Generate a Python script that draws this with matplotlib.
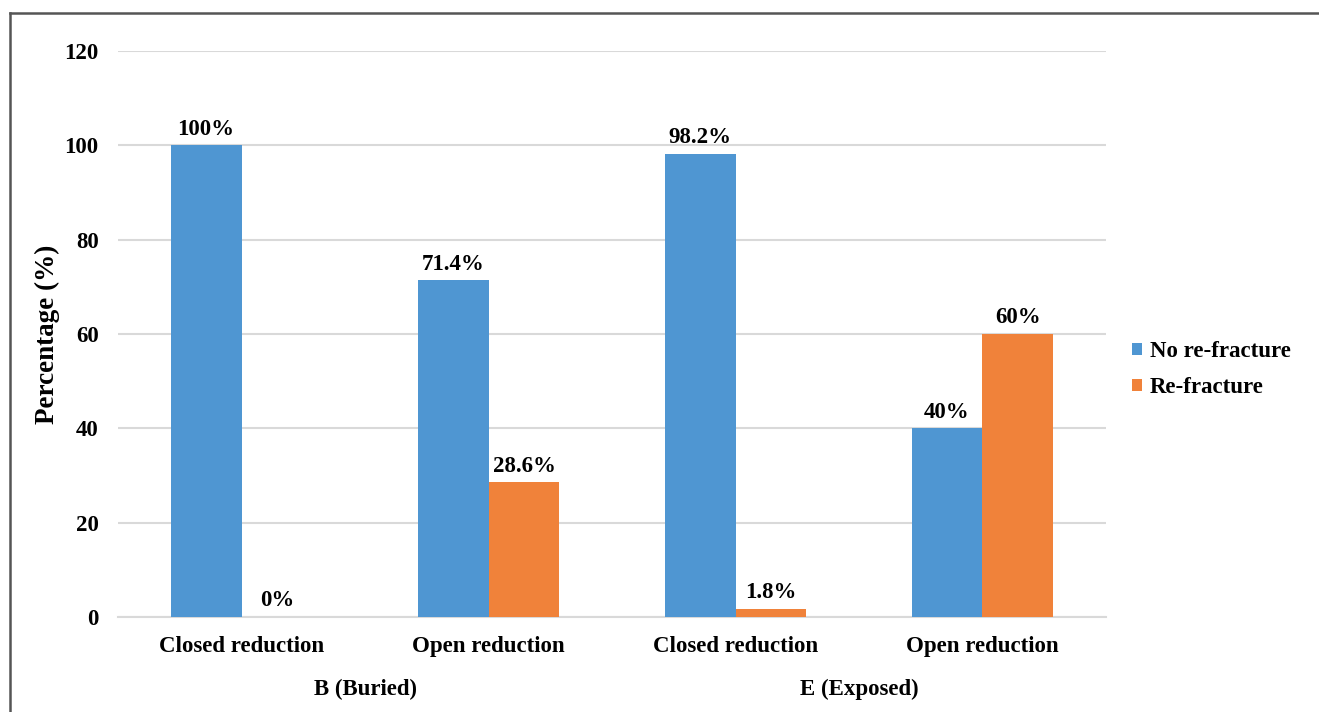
import numpy as np
import matplotlib.pyplot as plt
from matplotlib.lines import Line2D

plt.rcParams['font.family'] = ['Liberation Serif', 'DejaVu Serif']
plt.rcParams['font.weight'] = 'bold'

categories = ['Closed reduction', 'Open reduction', 'Closed reduction', 'Open reduction']
groups = ['B (Buried)', 'E (Exposed)']
no_refracture = [100, 71.4, 98.2, 40]
refracture = [0, 28.6, 1.8, 60]
no_labels = ['100%', '71.4%', '98.2%', '40%']
re_labels = ['0%', '28.6%', '1.8%', '60%']
series_names = ['No re-fracture', 'Re-fracture']

blue = '#4F96D2'
orange = '#F0823A'
fs = 16.5

fig = plt.figure(figsize=(13.19, 7.12), dpi=100)
ax = fig.add_axes([0.0895, 0.1334, 0.749, 0.795])

x = np.arange(len(categories))
w = 0.287
b1 = ax.bar(x - w / 2, no_refracture, w, color=blue, label=series_names[0], zorder=3)
b2 = ax.bar(x + w / 2, refracture, w, color=orange, label=series_names[1], zorder=3)

for bars, texts in [(b1, no_labels), (b2, re_labels)]:
    for rect, txt in zip(bars, texts):
        ax.annotate(txt, (rect.get_x() + rect.get_width() / 2, rect.get_height()),
                    xytext=(0, 4), textcoords='offset points', ha='center', va='bottom',
                    fontsize=fs, fontweight='bold')

ax.set_xlim(-0.5, len(categories) - 0.5)
ax.set_ylim(0, 120)
ax.set_yticks(np.arange(0, 121, 20))
ax.set_xticks(x)
ax.set_xticklabels(categories)
ax.tick_params(axis='both', length=0, labelsize=fs)
ax.tick_params(axis='y', pad=14)
ax.tick_params(axis='x', pad=14)
for lab in ax.get_xticklabels() + ax.get_yticklabels():
    lab.set_fontweight('bold')

ax.grid(axis='y', color='#D9D9D9', linewidth=1.5, zorder=0)
for s in ['top', 'right', 'left']:
    ax.spines[s].set_visible(False)
ax.spines['bottom'].set_color('#D9D9D9')
ax.spines['bottom'].set_linewidth(1.5)

ax.set_ylabel('Percentage (%)', fontsize=19.5, fontweight='bold', labelpad=3)

# group labels under each pair of categories
for i, g in enumerate(groups):
    ax.text(2 * i + 0.5, -0.128, g, transform=ax.get_xaxis_transform(),
            ha='center', va='center', fontsize=fs, fontweight='bold')

ax.legend(loc='center left', bbox_to_anchor=(1.005, 0.437), frameon=False,
          handlelength=0.45, handleheight=0.45, handletextpad=0.35,
          labelspacing=0.65, prop={'weight': 'bold', 'size': fs})

# frame around the figure (top and left edges)
fig.add_artist(Line2D([10 / 1319, 1], [1 - 13 / 712, 1 - 13 / 712],
                      transform=fig.transFigure, color='#555555', linewidth=1.8))
fig.add_artist(Line2D([10 / 1319, 10 / 1319], [0, 1 - 13 / 712],
                      transform=fig.transFigure, color='#555555', linewidth=1.8))

fig.savefig('out.png', dpi=100)
